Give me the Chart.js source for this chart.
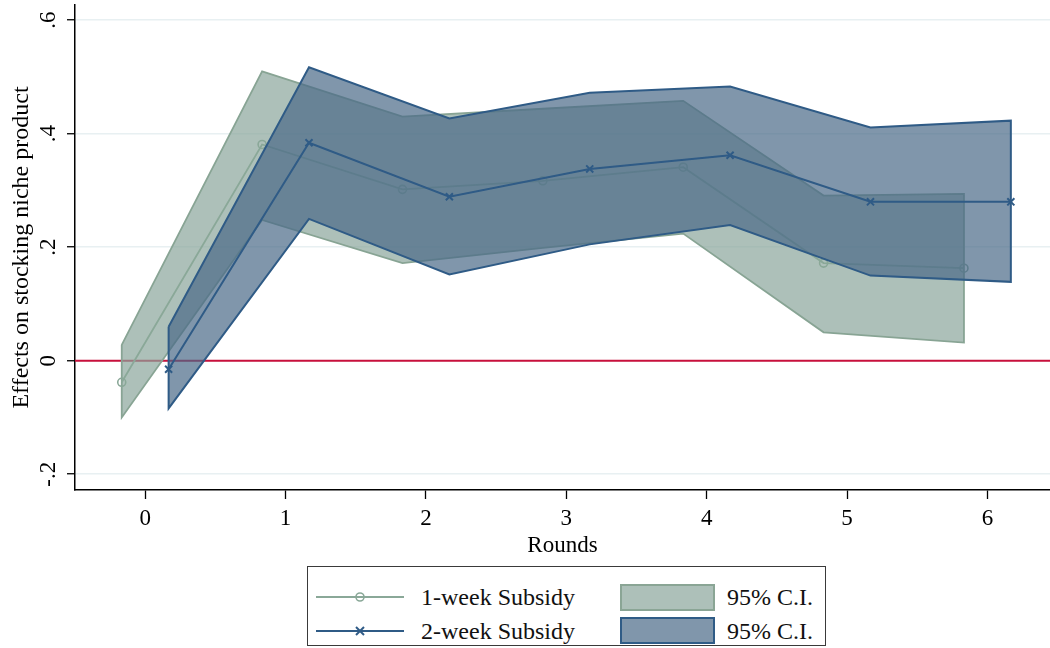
<!DOCTYPE html>
<html>
<head>
<meta charset="utf-8">
<script src="https://cdn.jsdelivr.net/npm/chart.js@4.4.1/dist/chart.umd.min.js"></script>
<style>
  html, body { margin: 0; padding: 0; background: #fff; }
  #wrap { position: relative; width: 1050px; height: 648px; overflow: hidden; font-family: "Liberation Serif", "Times New Roman", serif; }
  #c { position: absolute; left: 0; top: 0; }
  #legend { position: absolute; left: 307px; top: 566px; width: 519px; height: 80px; border: 1.5px solid #3a3a3a; box-sizing: border-box; }
  .row { position: absolute; left: 0; width: 100%; height: 30px; }
  .row svg { position: absolute; left: 0; top: 0; }
  .lab1 { position: absolute; left: 113px; font-size: 24px; line-height: 30px; color: #111; white-space: nowrap; }
  .lab2 { position: absolute; left: 419px; font-size: 24px; line-height: 30px; color: #111; white-space: nowrap; }
</style>
</head>
<body>
<div id="wrap">
  <canvas id="c" width="1050" height="560"></canvas>
  <div id="legend">
    <div class="row" style="top:15px">
      <svg width="420" height="30">
        <line x1="8" y1="15" x2="96" y2="15" stroke="#8aa898" stroke-width="2"/>
        <circle cx="52" cy="15" r="4" fill="none" stroke="#8aa898" stroke-width="1.6"/>
        <rect x="313" y="3" width="93" height="25" fill="rgba(138,165,155,0.7)" stroke="#8aa595" stroke-width="2"/>
      </svg>
      <span class="lab1" id="l1"></span>
      <span class="lab2" id="l3"></span>
    </div>
    <div class="row" style="top:49px">
      <svg width="420" height="30">
        <line x1="8" y1="15" x2="96" y2="15" stroke="#2f5b86" stroke-width="2"/>
        <line x1="48" y1="11" x2="56" y2="19" stroke="#2f5b86" stroke-width="2"/>
        <line x1="48" y1="19" x2="56" y2="11" stroke="#2f5b86" stroke-width="2"/>
        <rect x="313" y="2" width="93" height="25" fill="rgba(74,105,136,0.7)" stroke="#2f5b86" stroke-width="2"/>
      </svg>
      <span class="lab1" id="l2"></span>
      <span class="lab2" id="l4"></span>
    </div>
  </div>
</div>
<script>
// ---- data ----
const rounds = [0, 1, 2, 3, 4, 5, 6];
const offset = 0.167;
const week1   = [-0.038, 0.381, 0.302, 0.317, 0.341, 0.172, 0.163];
const week1Lo = [-0.100, 0.248, 0.172, 0.199, 0.224, 0.050, 0.032];
const week1Hi = [ 0.028, 0.510, 0.430, 0.444, 0.458, 0.291, 0.294];
const week2   = [-0.015, 0.384, 0.289, 0.338, 0.362, 0.280, 0.280];
const week2Lo = [-0.084, 0.250, 0.152, 0.205, 0.239, 0.150, 0.139];
const week2Hi = [ 0.060, 0.517, 0.427, 0.472, 0.483, 0.411, 0.423];
const xTicks = [0, 1, 2, 3, 4, 5, 6];
const yTicks = [-0.2, 0, 0.2, 0.4, 0.6];
const yTickLabels = ['-.2', '0', '.2', '.4', '.6'];
const seriesNames = ['1-week Subsidy', '2-week Subsidy'];
const ciName = '95% C.I.';
const yTitle = 'Effects on stocking niche product';
const xTitle = 'Rounds';

document.getElementById('l1').textContent = seriesNames[0];
document.getElementById('l2').textContent = seriesNames[1];
document.getElementById('l3').textContent = ciName;
document.getElementById('l4').textContent = ciName;

function pts(xs, ys, off) { return xs.map((x, i) => ({x: x + off, y: ys[i]})); }
function band(xs, lo, hi, off) {
  const up = xs.map((x, i) => ({x: x + off, y: hi[i]}));
  const dn = xs.map((x, i) => ({x: x + off, y: lo[i]})).reverse();
  return up.concat(dn, [up[0]]);
}

const FONT = "'Liberation Serif', 'Times New Roman', serif";

new Chart(document.getElementById('c'), {
  type: 'scatter',
  data: {
    datasets: [
      { // zero reference line
        data: [{x: -0.5, y: 0}, {x: 6.446, y: 0}],
        showLine: true, borderColor: '#c8103c', borderWidth: 2, pointRadius: 0, order: 5, fill: false
      },
      { // 1-week CI band
        data: band(rounds, week1Lo, week1Hi, -offset),
        showLine: true, fill: 'shape', backgroundColor: 'rgba(138,165,155,0.7)',
        borderColor: '#88a494', borderWidth: 1.8, pointRadius: 0, order: 4, tension: 0
      },
      { // 1-week line
        data: pts(rounds, week1, -offset),
        showLine: true, borderColor: '#8aa898', borderWidth: 1.8, pointStyle: 'circle',
        pointRadius: 4, pointBorderWidth: 1.6, pointBackgroundColor: 'rgba(0,0,0,0)',
        pointBorderColor: '#8aa898', order: 3, fill: false
      },
      { // 2-week CI band
        data: band(rounds, week2Lo, week2Hi, offset),
        showLine: true, fill: 'shape', backgroundColor: 'rgba(74,105,136,0.7)',
        borderColor: '#2f5b86', borderWidth: 2, pointRadius: 0, order: 2, tension: 0
      },
      { // 2-week line
        data: pts(rounds, week2, offset),
        showLine: true, borderColor: '#2f5b86', borderWidth: 2, pointStyle: 'crossRot',
        pointRadius: 5, pointBorderWidth: 2, pointBorderColor: '#2f5b86', order: 1, fill: false
      }
    ]
  },
  options: {
    responsive: false,
    devicePixelRatio: 1,
    animation: false,
    layout: { autoPadding: false, padding: { top: 5, right: 0, left: 0, bottom: 0 } },
    plugins: { legend: { display: false }, tooltip: { enabled: false }, title: { display: false } },
    scales: {
      x: {
        type: 'linear', min: -0.5, max: 6.446,
        afterBuildTicks: s => { s.ticks = xTicks.map(v => ({value: v})); },
        afterFit: s => { s.height = 70; s.paddingLeft = 0; s.paddingRight = 0; },
        grid: { drawOnChartArea: false, drawTicks: true, tickLength: 9, tickColor: '#000', tickWidth: 1.3 },
        border: { color: '#000', width: 1.5 },
        ticks: { color: '#000', font: { family: FONT, size: 23 }, padding: 6, maxRotation: 0, minRotation: 0,
                 callback: v => String(v) },
        title: { display: true, text: xTitle, color: '#000', font: { family: FONT, size: 23, lineHeight: 1 },
                 padding: { top: 0, bottom: 3 } }
      },
      y: {
        type: 'linear', min: -0.2278, max: 0.6268,
        afterBuildTicks: s => { s.ticks = yTicks.map(v => ({value: v})); },
        afterFit: s => { s.width = 75; s.paddingTop = 0; s.paddingBottom = 0; },
        grid: { color: '#e8f0f2', lineWidth: 1.5, drawTicks: true, tickLength: 8, tickColor: '#000', tickWidth: 1.3 },
        border: { color: '#000', width: 1.5 },
        ticks: { color: '#000', font: { family: FONT, size: 23 }, padding: 6, minRotation: 90, maxRotation: 90,
                 crossAlign: 'center',
                 callback: (v) => { const i = yTicks.findIndex(t => Math.abs(t - v) < 1e-9); return i >= 0 ? yTickLabels[i] : ''; } },
        title: { display: true, text: yTitle, color: '#000', font: { family: FONT, size: 24, lineHeight: 1 },
                 padding: { top: 10, bottom: 0 } }
      }
    }
  }
});
</script>
</body>
</html>
